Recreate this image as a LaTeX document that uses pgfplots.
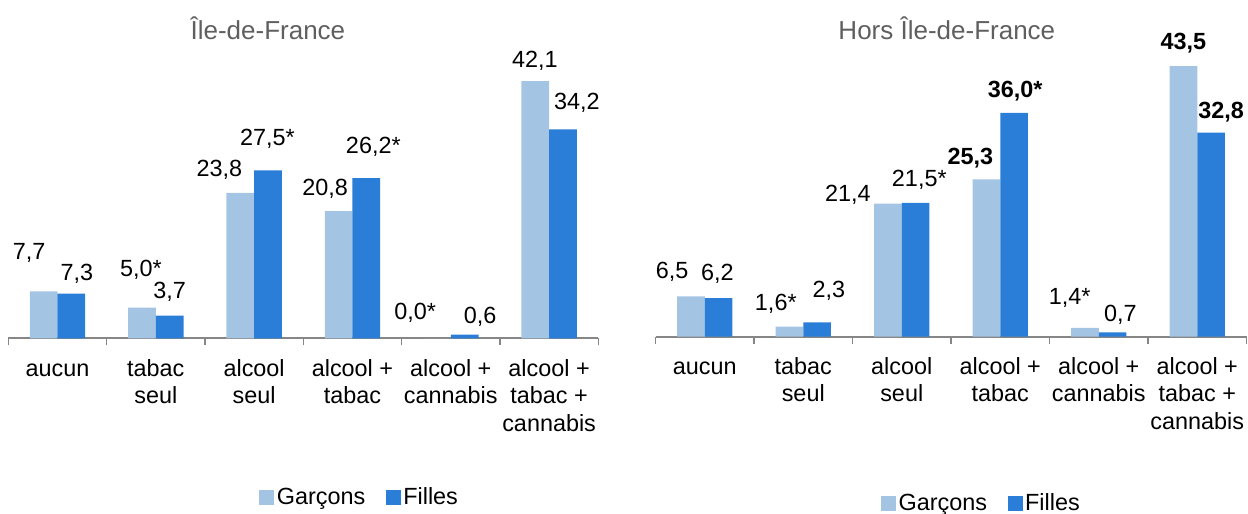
\documentclass[border=0pt]{standalone}
\usepackage{fontspec}
\setmainfont{Liberation Sans}
\usepackage{pgfplots}
\usepackage{pgfplotstable}
\pgfplotsset{compat=1.18}
\definecolor{cG}{RGB}{164,196,227}
\definecolor{cF}{RGB}{42,126,215}
\definecolor{axgray}{RGB}{134,134,134}
\definecolor{titlegray}{RGB}{95,95,95}

% x y dx dy lab  (dx,dy: label offset from bar top, px)
\pgfplotstableread{
x y dx dy lab
0 7.7 -14.6 40.3 7,7
1 5.0 -1 39.8 5,0*
2 23.8 -21 24.6 23,8
3 20.8 -13.5 24.5 20,8
4 0.0 -21.8 27 0,0*
5 42.1 -0.4 22 42,1
}\LG
\pgfplotstableread{
x y dx dy lab
0 7.3 5.6 21.7 7,3
1 3.7 0 25.7 3,7
2 27.5 -0.5 33.6 27,5*
3 26.2 7 33.5 26,2*
4 0.6 15.4 19.6 0,6
5 34.2 13.8 28.3 34,2
}\LF
\pgfplotstableread{
x y dx dy lab
0 6.5 -18.8 26.5 6,5
1 1.6 -13.6 24.8 1,6*
2 21.4 -40 10 21,4
3 25.3 -16 23.5 \textbf{25,3}
4 1.4 -15.3 32 1,4*
5 43.5 0 25 \textbf{43,5}
}\RG
\pgfplotstableread{
x y dx dy lab
0 6.2 -1.3 25.8 6,2
1 2.3 11.8 33.4 2,3
2 21.5 3.7 25.2 21,5*
3 36.0 1 23.7 \textbf{36,0*}
4 0.7 7.8 19 0,7
5 32.8 10 22.7 \textbf{32,8}
}\RF

\newcommand{\lfont}{\fontsize{23.4}{27.5}\selectfont}

\pgfplotsset{
  mybars/.style={
    ybar=0pt, bar width=27.7pt, scale only axis, clip=false,
    xmin=-0.5, xmax=5.5, ymin=0, ymax=50,
    axis x line*=bottom, axis y line=none, ytick=\empty,
    x axis line style={axgray, line width=1.8pt},
    xtick={0,...,5}, major tick length=0pt, tick align=outside,
    extra x ticks={-0.5,0.5,1.5,2.5,3.5,4.5,5.5}, extra x tick labels={},
    extra x tick style={major tick length=7pt, tick style={axgray, line width=1.5pt}},
    xticklabels={{\strut aucun},{\strut tabac\\seul},{\strut alcool\\seul},{\strut alcool +\\tabac},{\strut alcool +\\cannabis},{\strut alcool +\\tabac +\\cannabis}},
    xticklabel style={font=\lfont, align=center, anchor=north, inner sep=0pt, yshift=-18.3pt, text=black},
    point meta=explicit symbolic,
    visualization depends on={\thisrow{dx} \as \labdx},
    visualization depends on={\thisrow{dy} \as \labdy},
    nodes near coords,
    nodes near coords style={font=\lfont, anchor=base, inner sep=0pt, xshift={\labdx*1pt}, yshift={(\labdy-8.4)*1pt}, text=black},
    legend columns=2,
    legend style={draw=none, fill=none, font=\lfont, inner sep=0pt,
      nodes={inner sep=2.5pt, anchor=west},
      /tikz/every even column/.append style={column sep=18pt}},
    title style={font=\fontsize{26}{30}\selectfont, text=titlegray, anchor=base, inner sep=0pt, yshift=-9pt},
  },
  gbar/.style={fill=cG, draw=none,
    /pgfplots/legend image code/.code={\fill[cG] (0pt,-7.5pt) rectangle (15pt,7.5pt);}},
  fbar/.style={fill=cF, draw=none,
    /pgfplots/legend image code/.code={\fill[cF] (0pt,-7.5pt) rectangle (15pt,7.5pt);}},
}

\begin{document}
\begin{tikzpicture}
\useasboundingbox (0,0) rectangle (1248pt,514pt);
\begin{axis}[mybars, at={(8.3pt,175.7pt)}, anchor=south west,
  width=590pt, height=305.5pt,
  title={Île-de-France}, title style={at={(0.440,0.987)}},
  legend style={at={(0.596,-0.5195)}, anchor=center}]
\addplot[gbar] table[x=x, y=y, meta=lab] {\LG};
\addplot[fbar] table[x=x, y=y, meta=lab] {\LF};
\legend{Garçons, Filles}
\end{axis}
\begin{axis}[mybars, at={(655.5pt,177.3pt)}, anchor=south west,
  width=591pt, height=311pt,
  title={Hors Île-de-France}, title style={at={(0.493,0.965)}},
  legend style={at={(0.552,-0.535)}, anchor=center}]
\addplot[gbar] table[x=x, y=y, meta=lab] {\RG};
\addplot[fbar] table[x=x, y=y, meta=lab] {\RF};
\legend{Garçons, Filles}
\end{axis}
\end{tikzpicture}
\end{document}
